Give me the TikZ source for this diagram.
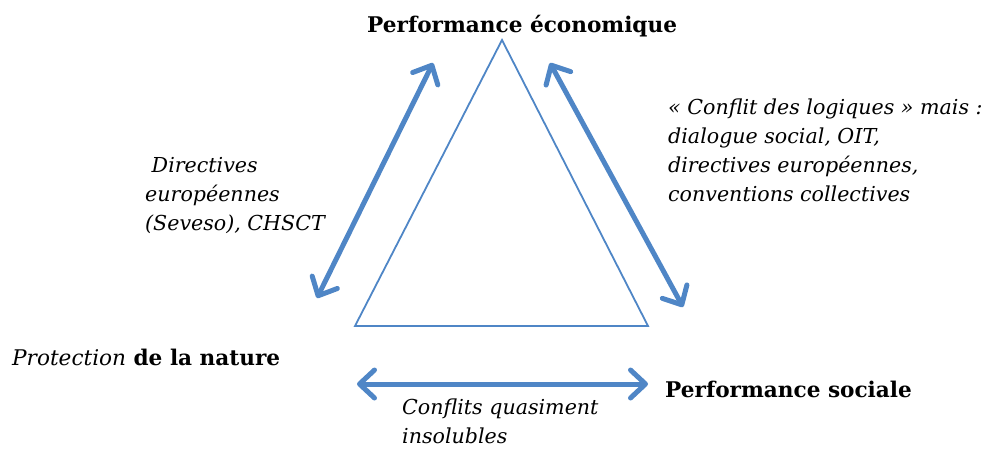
\documentclass[tikz,border=0pt]{standalone}
\usepackage{fontspec}
\setmainfont{DejaVu Serif}
\usepackage{xcolor}
\definecolor{ARROWCOLOR}{RGB}{79,134,198}
\usepackage{tikz}
\usetikzlibrary{arrows.meta,positioning}
\tikzset{
  arrow-style/.style = {
    draw=ARROWCOLOR, line width=5pt,
    {Straight Barb[length=15pt,width=28pt,round]}-{Straight Barb[length=15pt,width=28pt,round]}
  },
  triangle-style/.style = {
    draw=ARROWCOLOR, line width=1.8pt, line join=miter
  },
  pole-style/.style = {
    inner sep=0pt, anchor=base west,
    font=\fontsize{21.6}{26}\selectfont\bfseries
  },
  note-style/.style = {
    inner sep=0pt, anchor=base west, align=left,
    font=\fontsize{20.6}{28.8}\selectfont\itshape
  }
}

\begin{document}
\begin{tikzpicture}[x=1pt,y=-1pt]
    \useasboundingbox (0,0) rectangle (991,450);

    %%% triangle
    \coordinate (top) at (502,40);
    \coordinate (left) at (355,326);
    \coordinate (right) at (648,326);
    \draw[triangle-style] (top) -- (left) -- (right) -- cycle;

    %%% arrows
    \coordinate (ecoL) at (433,63);
    \coordinate (natU) at (317,298);
    \coordinate (ecoR) at (550,63);
    \coordinate (socU) at (683,307);
    \coordinate (natR) at (357,384);
    \coordinate (socL) at (648,384);
    \draw[arrow-style] (natU) -- (ecoL);
    \draw[arrow-style] (ecoR) -- (socU);
    \draw[arrow-style] (natR) -- (socL);

    %%% poles
    \node[pole-style] (eco) at (367,32) {Performance économique};
    \node[pole-style] (soc) at (665,397) {Performance sociale};
    \node[pole-style] (nat) at (12,365) {\textmd{\itshape Protection} de la nature};

    %%% notes (base is the last line)
    \node[note-style] (noteL) at (145,230) {\ Directives\\européennes\\(Seveso), CHSCT};
    \node[note-style] (noteR) at (668,201) {« Conflit des logiques » mais :\\dialogue social, OIT,\\directives européennes,\\conventions collectives};
    \node[note-style] (noteB) at (402,443) {Conflits quasiment\\insolubles};
\end{tikzpicture}
\end{document}
